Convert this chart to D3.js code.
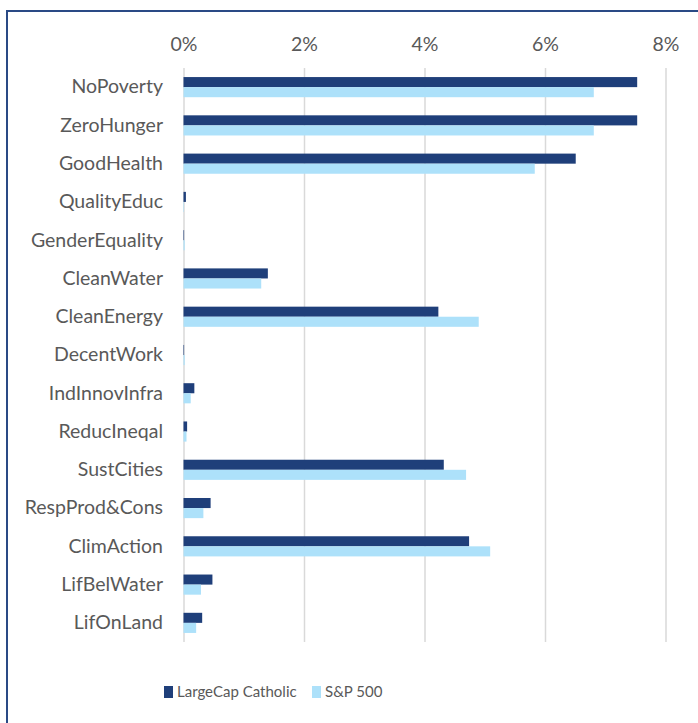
<!DOCTYPE html>
<html>
<head>
<meta charset="utf-8">
<script src="https://cdn.jsdelivr.net/npm/d3@7"></script>
<style>
  body { margin: 0; background: #fff; }
  text { font-family: "Lato", "Open Sans", sans-serif; fill: #595959; }
</style>
</head>
<body>
<div id="chart"></div>
<script>
const categories = ['NoPoverty', 'ZeroHunger', 'GoodHealth', 'QualityEduc', 'GenderEquality',
  'CleanWater', 'CleanEnergy', 'DecentWork', 'IndInnovInfra', 'ReducIneqal', 'SustCities',
  'RespProd&Cons', 'ClimAction', 'LifBelWater', 'LifOnLand'];
const seriesNames = ['LargeCap Catholic', 'S&P 500'];
const largeCap = [7.53, 7.53, 6.51, 0.04, 0.01, 1.40, 4.23, 0.01, 0.18, 0.06, 4.32, 0.45, 4.74, 0.48, 0.31];
const sp500 = [6.81, 6.81, 5.83, 0.005, 0.02, 1.29, 4.90, 0.02, 0.12, 0.05, 4.69, 0.33, 5.09, 0.29, 0.21];
const tickValues = [0, 2, 4, 6, 8];
const colors = ['#1f3f7a', '#ade1fa'];

const width = 698, height = 723;
const svg = d3.select('#chart').append('svg')
  .attr('width', width).attr('height', height);

// outer frame
svg.append('rect')
  .attr('x', 7).attr('y', 11)
  .attr('width', 720).attr('height', 740)
  .attr('fill', 'none')
  .attr('stroke', '#2a4a85')
  .attr('stroke-width', 2);

const x = d3.scaleLinear().domain([0, 8]).range([183.5, 665.5]);
const y = d3.scaleBand().domain(categories).range([68, 642]);
const inner = d3.scaleBand().domain(seriesNames).range([0, y.bandwidth()])
  .paddingInner(0).paddingOuter(0.9);

// gridlines + tick labels
const ax = svg.append('g').attr('transform', 'translate(0,68)')
  .call(d3.axisTop(x).tickValues(tickValues).tickFormat(d => d + '%')
    .tickSize(-(642 - 68)).tickPadding(17));
ax.select('.domain').remove();
ax.selectAll('line').attr('stroke', '#d9d9d9').attr('stroke-width', 1.5);
ax.selectAll('text').style('font-size', '19.5px').attr('fill', '#595959');

// bars
const rows = categories.map((c, i) => ({ c, vals: [largeCap[i], sp500[i]] }));
const g = svg.selectAll('g.row').data(rows).enter().append('g')
  .attr('class', 'row')
  .attr('transform', d => `translate(0,${y(d.c)})`);

g.selectAll('rect').data(d => d.vals.map((v, k) => ({ v, s: seriesNames[k], k })))
  .enter().append('rect')
  .attr('x', x(0))
  .attr('y', d => inner(d.s))
  .attr('height', inner.bandwidth())
  .attr('width', d => Math.max(x(d.v) - x(0), 0.5))
  .attr('fill', d => colors[d.k]);

// category labels
svg.selectAll('text.cat').data(categories).enter().append('text')
  .attr('class', 'cat')
  .attr('x', 163)
  .attr('y', d => y(d) + y.bandwidth() / 2 - 0.5)
  .attr('dy', '0.35em')
  .attr('text-anchor', 'end')
  .style('font-size', '19.5px')
  .text(d => d);

// legend
const legendX = [164, 312];
const lg = svg.selectAll('g.legend').data(seriesNames).enter().append('g')
  .attr('class', 'legend')
  .attr('transform', (d, i) => `translate(${legendX[i]},686)`);
lg.append('rect').attr('width', 9).attr('height', 12)
  .attr('fill', (d, i) => colors[i]);
lg.append('text').attr('x', 13).attr('y', 6).attr('dy', '0.35em')
  .style('font-size', '15px').text(d => d);
</script>
</body>
</html>
